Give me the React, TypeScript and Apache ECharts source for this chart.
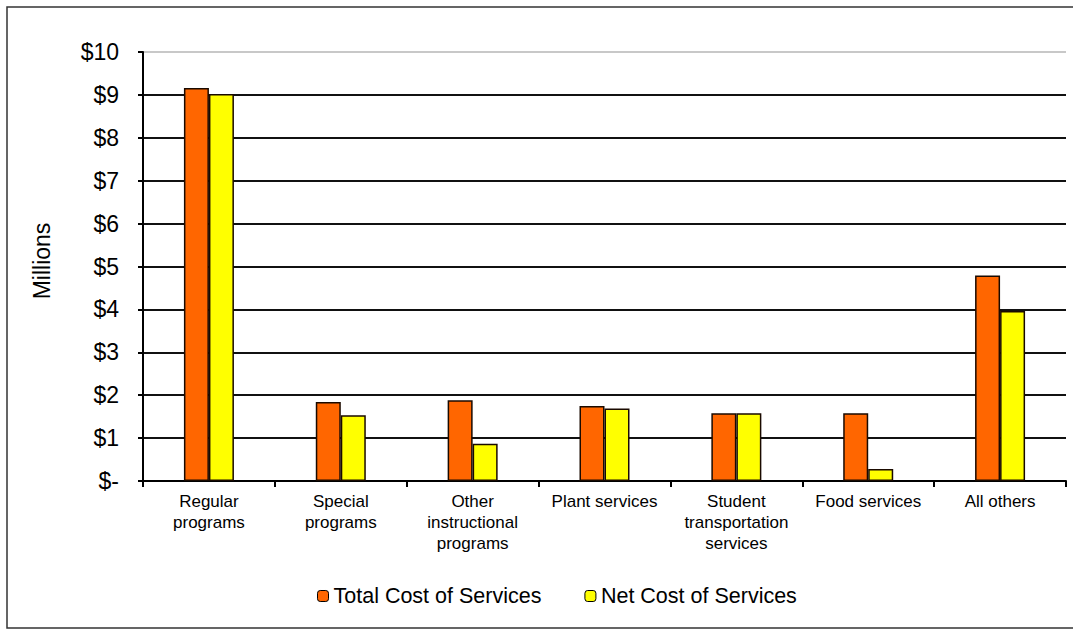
import React, { useEffect, useRef } from "react";
import * as echarts from "echarts";

const categories = [
  "Regular\nprograms",
  "Special\nprograms",
  "Other\ninstructional\nprograms",
  "Plant services",
  "Student\ntransportation\nservices",
  "Food services",
  "All others",
];
const totalCost = [9.16, 1.84, 1.88, 1.75, 1.58, 1.58, 4.79];
const netCost = [9.02, 1.53, 0.87, 1.69, 1.58, 0.28, 3.96];
const seriesNames = ["Total Cost of Services", "Net Cost of Services"];

export default function App() {
  const ref = useRef<HTMLDivElement>(null);
  useEffect(() => {
    if (!ref.current) return;
    const chart = echarts.init(ref.current, undefined, { renderer: "svg" });
    const font = "Arial, 'Liberation Sans', sans-serif";
    const gridColors = Array.from({ length: 11 }, (_, i) => (i === 10 ? "#c8c8c8" : "#111"));
    chart.setOption({
      animation: false,
      backgroundColor: "#fff",
      textStyle: { fontFamily: font },
      graphic: [
        {
          type: "rect",
          shape: { x: 7, y: 7, width: 1100, height: 621 },
          style: { fill: "none", stroke: "#333", lineWidth: 1.5 },
          silent: true,
        },
        {
          type: "text",
          x: 42,
          y: 261,
          rotation: Math.PI / 2,
          style: {
            text: "Millions",
            fontSize: 23,
            fontFamily: font,
            fill: "#000",
            align: "center",
            verticalAlign: "middle",
          },
        },
      ],
      legend: {
        data: seriesNames,
        left: 312,
        top: 580,
        itemWidth: 11,
        itemHeight: 11,
        itemGap: 43,
        textStyle: { fontSize: 21.5, color: "#000", fontFamily: font, padding: [0, 0, 0, 0] },
        itemStyle: { borderColor: "#000", borderWidth: 1 },
      },
      grid: { left: 143, right: 7, top: 52, bottom: 150 },
      xAxis: {
        type: "category",
        data: categories,
        axisLine: { lineStyle: { color: "#000", width: 2 } },
        axisTick: { show: true, length: 6, lineStyle: { color: "#000", width: 2 } },
        axisLabel: {
          fontSize: 17,
          lineHeight: 21,
          color: "#000",
          margin: 10,
          interval: 0,
          fontFamily: font,
        },
      },
      yAxis: {
        type: "value",
        min: 0,
        max: 10,
        interval: 1,
        axisLine: { show: true, lineStyle: { color: "#000", width: 2 } },
        axisTick: { show: true, length: 5, lineStyle: { color: "#000", width: 2 } },
        axisLabel: {
          fontSize: 23,
          color: "#000",
          margin: 24,
          fontFamily: font,
          formatter: (v: number) => (v === 0 ? "$-" : "$" + v),
        },
        splitLine: { show: true, lineStyle: { color: gridColors, width: 2 } },
      },
      series: [
        {
          name: seriesNames[0],
          type: "bar",
          data: totalCost,
          barWidth: 25,
          barGap: "0%",
          itemStyle: { color: "#FF6600", borderColor: "#1a0a00", borderWidth: 1.5 },
        },
        {
          name: seriesNames[1],
          type: "bar",
          data: netCost,
          barWidth: 25,
          itemStyle: { color: "#FFFF00", borderColor: "#1a0a00", borderWidth: 1.5 },
        },
      ],
    });
    return () => chart.dispose();
  }, []);
  return (
    <div
      ref={ref}
      style={{ position: "fixed", left: 0, top: 0, width: 1073, height: 631 }}
    />
  );
}
